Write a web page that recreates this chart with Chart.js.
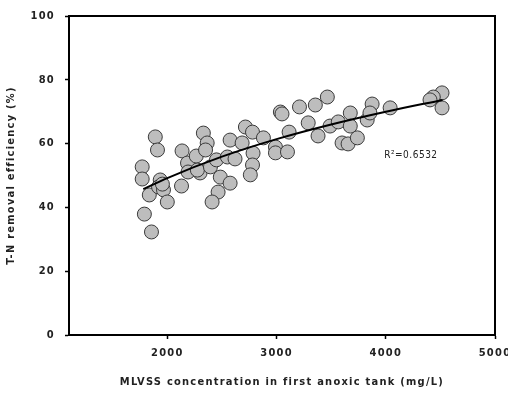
<!DOCTYPE html>
<html>
<head>
<meta charset="utf-8">
<script src="https://cdn.jsdelivr.net/npm/chart.js@4.4.1/dist/chart.umd.min.js"></script>
<style>
  html, body { margin: 0; padding: 0; background: #fff; }
  #contenedor { width: 508px; height: 393px; }
</style>
</head>
<body>
<div id="contenedor"><canvas id="grafico" width="508" height="393"></canvas></div>
<script>
// --- Datos ---
// MLVSS en el primer tanque anóxico (mg/L)
const mlvss = [1770, 1770, 1790, 1855, 1890, 1910, 1835, 1935, 1920, 1965,
  2000, 1955, 2130, 2135, 2185, 2190, 2265, 2300, 2275, 2330,
  2365, 2350, 2395, 2450, 2485, 2575, 2465, 2410, 2575, 2550,
  2620, 2715, 2780, 2685, 2785, 2780, 2760, 2880, 2990, 2990,
  3100, 3115, 3035, 3050, 3210, 3355, 3465, 3290, 3380, 3490,
  3565, 3600, 3655, 3740, 3675, 3675, 3830, 3875, 3855, 4040,
  4515, 4435, 4405, 4515];
// Eficiencia de remoción de T-N (%)
const remocion = [52.7, 48.9, 37.9, 32.3, 62.1, 58.0, 43.9, 48.6, 46.4, 45.5,
  41.7, 47.3, 46.7, 57.7, 53.9, 51.1, 56.1, 50.8, 51.7, 63.3,
  60.2, 58.0, 52.7, 54.9, 49.5, 47.6, 44.8, 41.7, 61.1, 55.8,
  55.2, 65.2, 63.6, 60.2, 57.0, 53.3, 50.2, 61.8, 58.9, 57.1,
  57.4, 63.6, 69.9, 69.3, 71.5, 72.1, 74.6, 66.5, 62.4, 65.5,
  66.8, 60.2, 59.9, 61.8, 69.6, 65.5, 67.4, 72.4, 69.6, 71.2,
  75.9, 74.6, 73.7, 71.2];
// Curva de ajuste
const ajusteX = [1780, 2000, 2500, 3000, 3500, 4000, 4520];
const ajusteY = [45.7, 49.2, 55.9, 61.4, 66.0, 70.0, 73.7];
// Marcas de los ejes
const ticksX = [2000, 3000, 4000, 5000];
const ticksY = [0, 20, 40, 60, 80, 100];
const textoR2 = 'R\u00B2=0.6532';
const posR2 = { x: 4230, y: 56.4 };

const fuente = '"Liberation Sans Narrow", "Arial Narrow", "DejaVu Sans Condensed", sans-serif';

// --- Plugins ---
// Espaciado entre letras como en la figura original
const espaciado = {
  id: 'espaciado',
  beforeLayout(chart) { chart.ctx.letterSpacing = '1.25px'; },
  beforeDraw(chart) { chart.ctx.letterSpacing = '1.25px'; }
};

// Marco completo alrededor del área de datos
const marco = {
  id: 'marco',
  afterDraw(chart) {
    const { ctx, chartArea: a } = chart;
    ctx.save();
    ctx.strokeStyle = '#000';
    ctx.lineWidth = 2;
    ctx.strokeRect(a.left, a.top, a.right - a.left, a.bottom - a.top);
    ctx.restore();
  }
};

// Texto del coeficiente de determinación
const etiquetaR2 = {
  id: 'etiquetaR2',
  afterDatasetsDraw(chart) {
    const { ctx, scales } = chart;
    ctx.save();
    ctx.font = '10px ' + fuente;
    ctx.letterSpacing = '0.5px';
    ctx.fillStyle = '#222';
    ctx.textAlign = 'center';
    ctx.textBaseline = 'middle';
    ctx.fillText(textoR2, scales.x.getPixelForValue(posR2.x), scales.y.getPixelForValue(posR2.y));
    ctx.restore();
  }
};

const puntos = mlvss.map((x, i) => ({ x: x, y: remocion[i] }));
const curva = ajusteX.map((x, i) => ({ x: x, y: ajusteY[i] }));

new Chart(document.getElementById('grafico'), {
  type: 'scatter',
  data: {
    datasets: [
      {
        label: 'Ajuste',
        data: curva,
        showLine: true,
        borderColor: '#000',
        borderWidth: 2,
        pointRadius: 0,
        cubicInterpolationMode: 'monotone',
        order: 0
      },
      {
        label: 'Mediciones',
        data: puntos,
        pointRadius: 7,
        pointBackgroundColor: '#bdbdbd',
        pointBorderColor: '#3a3a3a',
        pointBorderWidth: 1,
        order: 1
      }
    ]
  },
  options: {
    responsive: false,
    animation: false,
    devicePixelRatio: 1,
    layout: { padding: { top: 16, right: 13, left: 0, bottom: 0 } },
    plugins: { legend: { display: false }, tooltip: { enabled: false } },
    scales: {
      x: {
        type: 'linear',
        min: 1100,
        max: 5000,
        afterFit(scale) {
          scale.height = 58;
          scale.paddingLeft = 0;
          scale.paddingRight = 0;
        },
        afterBuildTicks(scale) { scale.ticks = ticksX.map(v => ({ value: v })); },
        grid: { drawOnChartArea: false, drawTicks: true, tickLength: 4, tickColor: '#000', tickWidth: 1.5 },
        border: { display: true, color: '#000', width: 2 },
        ticks: {
          padding: 8,
          color: '#222',
          font: { family: fuente, size: 11, weight: 'bold' },
          callback: (v) => String(v)
        },
        title: {
          display: true,
          text: 'MLVSS concentration in first anoxic tank (mg/L)',
          color: '#222',
          padding: { top: 0, bottom: 4 },
          font: { family: fuente, size: 11, weight: 'bold' }
        }
      },
      y: {
        type: 'linear',
        min: 0,
        max: 100,
        afterFit(scale) {
          scale.width = 69;
          scale.paddingTop = 0;
          scale.paddingBottom = 0;
        },
        afterBuildTicks(scale) { scale.ticks = ticksY.map(v => ({ value: v })); },
        grid: { drawOnChartArea: false, drawTicks: true, tickLength: 4, tickColor: '#000', tickWidth: 1.5 },
        border: { display: true, color: '#000', width: 2 },
        ticks: {
          padding: 10,
          color: '#222',
          font: { family: fuente, size: 11, weight: 'bold' },
          callback: (v) => String(v)
        },
        title: {
          display: true,
          text: 'T-N removal efficiency (%)',
          color: '#222',
          padding: { top: 5, bottom: 0 },
          font: { family: fuente, size: 11, weight: 'bold' }
        }
      }
    }
  },
  plugins: [espaciado, marco, etiquetaR2]
});
</script>
</body>
</html>
